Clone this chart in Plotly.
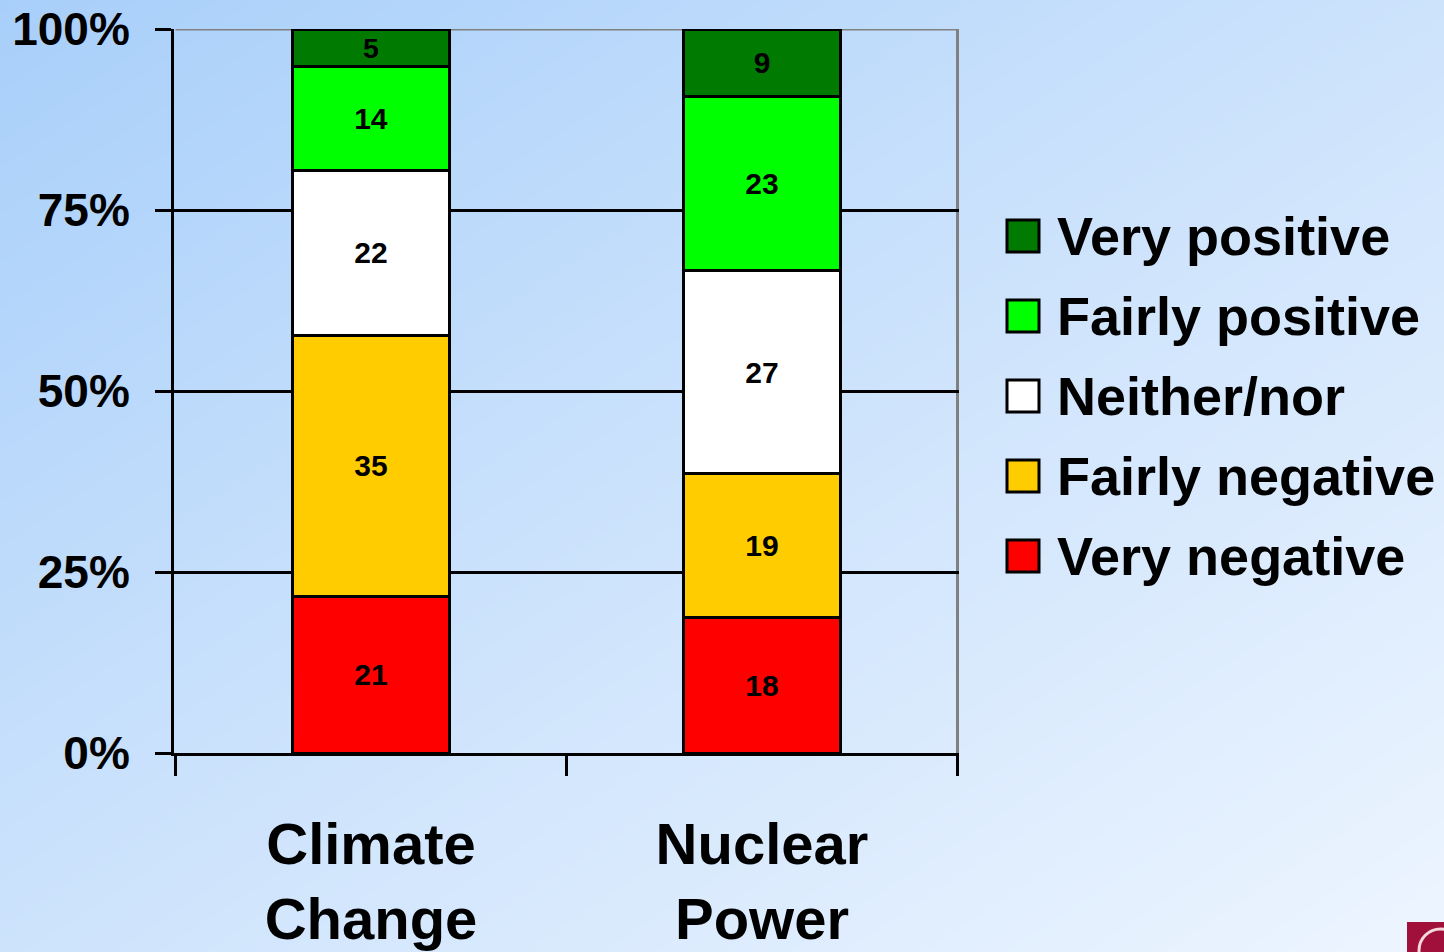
import plotly.graph_objects as go

# ---- data -------------------------------------------------------------
categories = ["Climate<br>Change", "Nuclear<br>Power"]
very_negative = [21, 18]
fairly_negative = [35, 19]
neither_nor = [22, 27]
fairly_positive = [14, 23]
very_positive = [5, 9]

series_names = ["Very negative", "Fairly negative", "Neither/nor",
                "Fairly positive", "Very positive"]
series_values = [very_negative, fairly_negative, neither_nor,
                 fairly_positive, very_positive]
series_colors = ["#ff0000", "#ffcc00", "#ffffff", "#00ff00", "#007a00"]

y_tick_vals = [0, 25, 50, 75, 100]
y_tick_text = ["0%", "25%", "50%", "75%", "100%"]
grid_vals = [25, 50, 75]

# ---- layout constants (pixels of a 1444 x 952 canvas) -----------------
W, H = 1444, 952
FONT = "Liberation Sans, Arial, sans-serif"
plot_left, plot_right, plot_top, plot_bottom = 174, 959, 29, 753
LINE_W = 3


def px_x(x):
    return x / W


def px_y(y):
    return 1 - y / H


fig = go.Figure()

# soft diagonal blue gradient behind everything
fig.add_trace(go.Heatmap(
    x=[0, 1], y=[0, 1], z=[[1, 0], [2, 1]],
    zmin=0, zmax=2, zsmooth="best", showscale=False, hoverinfo="skip",
    colorscale=[[0, "#edf5ff"], [0.5, "#cde3fc"], [1, "#a8cffa"]],
    xaxis="x", yaxis="y",
))

# stacked 100% bars, labelled with the raw counts
for name, vals, color in zip(series_names, series_values, series_colors):
    fig.add_trace(go.Bar(
        x=categories, y=vals, name=name, text=vals,
        texttemplate="%{text}", textposition="inside",
        insidetextanchor="middle", textangle=0,
        textfont=dict(family=FONT, size=30, color="black", weight="bold"),
        marker=dict(color=color, line=dict(color="black", width=LINE_W)),
        showlegend=False, xaxis="x2", yaxis="y2",
    ))

shapes = [
    # grey frame on the top and right of the plot area
    dict(type="line", xref="x2", yref="y2", x0=-0.5, x1=1.5, y0=100, y1=100,
         line=dict(color="#808080", width=LINE_W), layer="below"),
    dict(type="line", xref="x2", yref="y2", x0=1.5, x1=1.5, y0=0, y1=100,
         line=dict(color="#808080", width=LINE_W), layer="below"),
    # corner logo fragment
    dict(type="rect", xref="paper", yref="paper",
         x0=px_x(1407), x1=px_x(1450), y0=px_y(960), y1=px_y(922),
         fillcolor="#a0103a", line=dict(width=0)),
    dict(type="circle", xref="paper", yref="paper",
         x0=px_x(1419), x1=px_x(1462), y0=px_y(972), y1=px_y(929),
         line=dict(color="#f4d8de", width=3)),
]

annotations = []
# legend drawn with large swatches, top entry first
legend_centers = [236, 316, 396, 476, 556]
for cy, name, color in zip(legend_centers, series_names[::-1], series_colors[::-1]):
    shapes.append(dict(
        type="rect", xref="paper", yref="paper",
        x0=px_x(1007), x1=px_x(1039), y0=px_y(cy + 16), y1=px_y(cy - 16),
        fillcolor=color, line=dict(color="black", width=LINE_W),
    ))
    annotations.append(dict(
        text=name, xref="paper", yref="paper", x=px_x(1055), y=px_y(cy),
        xanchor="left", yanchor="middle", showarrow=False,
        font=dict(family=FONT, size=54, color="black", weight="bold"),
    ))

# gridlines only at the inner quarter marks
fig.add_trace(go.Scatter(x=[], y=[], yaxis="y3", xaxis="x2",
                         showlegend=False, hoverinfo="skip"))

fig.update_layout(
    width=W, height=H, margin=dict(l=0, r=0, t=0, b=0),
    paper_bgcolor="#dcecfe", plot_bgcolor="rgba(0,0,0,0)",
    barmode="stack", barnorm="percent", bargap=0.6,
    showlegend=False,
    font=dict(family=FONT, color="black"),
    xaxis=dict(domain=[0, 1], range=[0, 1], visible=False, fixedrange=True),
    yaxis=dict(domain=[0, 1], range=[0, 1], visible=False, fixedrange=True),
    xaxis2=dict(
        domain=[px_x(plot_left), px_x(plot_right)], anchor="y2",
        type="category", tickson="boundaries",
        ticks="outside", ticklen=20, tickwidth=LINE_W, tickcolor="black",
        showline=True, linecolor="black", linewidth=LINE_W, showgrid=False,
        tickfont=dict(family=FONT, size=58, color="black", weight="bold"),
        ticklabelstandoff=38, automargin=False,
    ),
    yaxis2=dict(
        domain=[px_y(plot_bottom), px_y(plot_top)], anchor="x2",
        range=[0, 100], tickvals=y_tick_vals, ticktext=y_tick_text,
        ticks="outside", ticklen=16, tickwidth=LINE_W, tickcolor="black",
        showline=True, linecolor="black", linewidth=LINE_W,
        showgrid=False, zeroline=False,
        tickfont=dict(family=FONT, size=46, color="black", weight="bold"),
        ticklabelstandoff=16, automargin=False,
    ),
    yaxis3=dict(
        overlaying="y2", anchor="x2", range=[0, 100], tickvals=grid_vals,
        showticklabels=False, ticks="", showline=False, zeroline=False,
        showgrid=True, gridcolor="black", gridwidth=LINE_W, automargin=False,
    ),
    shapes=shapes,
    annotations=annotations,
)

fig.write_html("out.html")
